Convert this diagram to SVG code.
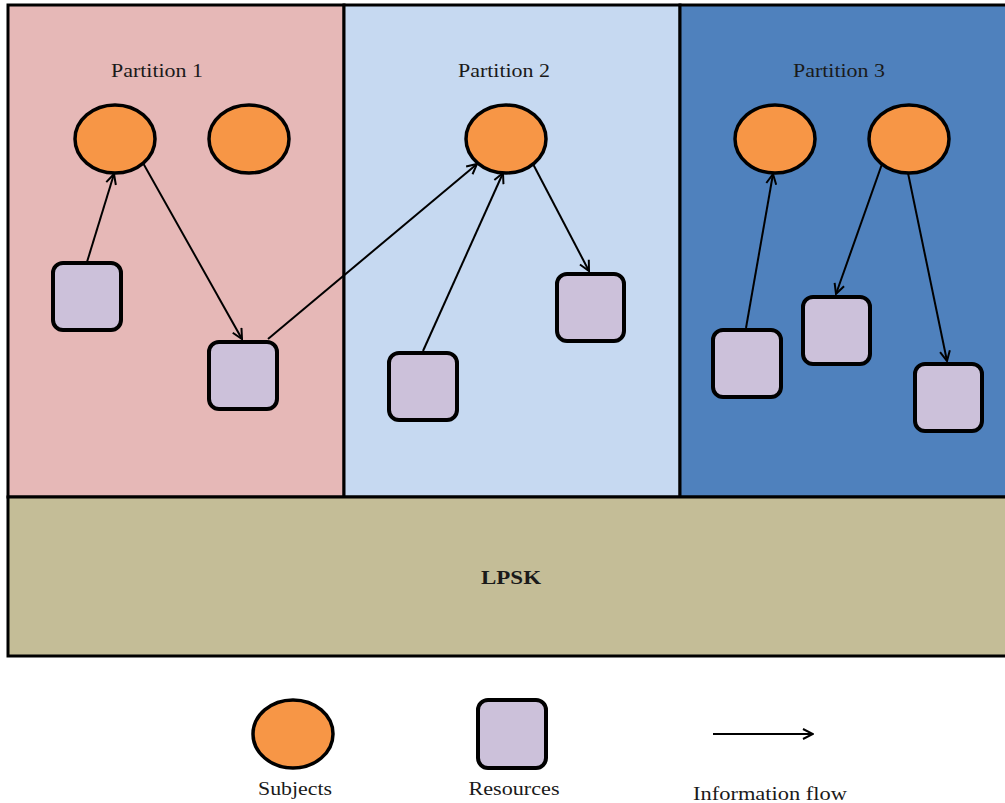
<svg xmlns="http://www.w3.org/2000/svg" width="1005" height="803" viewBox="0 0 1005 803">
<defs>
<marker id="ah" viewBox="0 0 12 12" refX="11" refY="6" markerWidth="12" markerHeight="12" markerUnits="userSpaceOnUse" orient="auto">
<polyline points="1,1 11,6 1,11" fill="none" stroke="#000" stroke-width="2"/>
</marker>
<style>
.part{stroke:#000;stroke-width:3}
.subj{fill:#F79646;stroke:#000;stroke-width:3.5}
.res{fill:#CCC1DA;stroke:#000;stroke-width:4}
.lbl{font-family:"Liberation Serif",serif;font-size:19px;fill:#1a1a1a;text-anchor:middle}
.flow{stroke:#000;stroke-width:2;fill:none;marker-end:url(#ah)}
</style>
</defs>
<rect width="1005" height="803" fill="#fff"/>
<g id="partition1">
<rect class="part" x="8" y="5" width="336" height="492" fill="#E6B8B7"/>
<text class="lbl" x="157" y="77" textLength="92" lengthAdjust="spacingAndGlyphs">Partition 1</text>
</g>
<g id="partition2">
<rect class="part" x="344" y="5" width="336" height="492" fill="#C6D9F1"/>
<text class="lbl" x="504" y="77" textLength="92" lengthAdjust="spacingAndGlyphs">Partition 2</text>
</g>
<g id="partition3">
<rect class="part" x="680" y="5" width="330" height="492" fill="#4F81BD"/>
<text class="lbl" x="839" y="77" textLength="92" lengthAdjust="spacingAndGlyphs">Partition 3</text>
</g>
<g id="lpsk">
<rect class="part" x="8" y="497" width="1002" height="159" fill="#C4BD97"/>
<text class="lbl" x="511" y="584" font-weight="bold" textLength="60" lengthAdjust="spacingAndGlyphs">LPSK</text>
</g>
<g id="p1-subject1"><ellipse class="subj" cx="115" cy="139" rx="40" ry="34"/></g>
<g id="p1-subject2"><ellipse class="subj" cx="249" cy="139" rx="40" ry="34"/></g>
<g id="p2-subject1"><ellipse class="subj" cx="506" cy="139" rx="40" ry="34"/></g>
<g id="p3-subject1"><ellipse class="subj" cx="775" cy="139" rx="40" ry="34"/></g>
<g id="p3-subject2"><ellipse class="subj" cx="909" cy="139" rx="40" ry="34"/></g>
<g id="p1-res1"><rect class="res" x="53" y="263" width="68" height="67" rx="10"/></g>
<g id="p1-res2"><rect class="res" x="209" y="342" width="68" height="67" rx="10"/></g>
<g id="p2-res1"><rect class="res" x="389" y="353" width="68" height="67" rx="10"/></g>
<g id="p2-res2"><rect class="res" x="557" y="274" width="67" height="67" rx="10"/></g>
<g id="p3-res1"><rect class="res" x="713" y="330" width="68" height="67" rx="10"/></g>
<g id="p3-res2"><rect class="res" x="803" y="297" width="67" height="67" rx="10"/></g>
<g id="p3-res3"><rect class="res" x="915" y="364" width="67" height="67" rx="10"/></g>
<g id="connectors">
<line class="flow" x1="87" y1="262" x2="114" y2="174"/>
<line class="flow" x1="143" y1="163" x2="242" y2="339"/>
<line class="flow" x1="268" y1="339" x2="477" y2="164"/>
<line class="flow" x1="423" y1="351" x2="503" y2="173"/>
<line class="flow" x1="533" y1="164" x2="589" y2="271"/>
<line class="flow" x1="746" y1="328" x2="773" y2="174"/>
<line class="flow" x1="882" y1="164" x2="836" y2="294"/>
<line class="flow" x1="908" y1="173" x2="947" y2="361"/>
</g>
<g id="legend-subjects">
<ellipse class="subj" cx="293" cy="734" rx="40" ry="34"/>
<text class="lbl" x="295" y="795" textLength="74" lengthAdjust="spacingAndGlyphs">Subjects</text>
</g>
<g id="legend-resources">
<rect class="res" x="478" y="700" width="68" height="68" rx="10"/>
<text class="lbl" x="514" y="795" textLength="91" lengthAdjust="spacingAndGlyphs">Resources</text>
</g>
<g id="legend-flow">
<line class="flow" x1="713" y1="734" x2="813" y2="734"/>
<text class="lbl" x="770" y="800" textLength="154" lengthAdjust="spacingAndGlyphs">Information flow</text>
</g>
</svg>
